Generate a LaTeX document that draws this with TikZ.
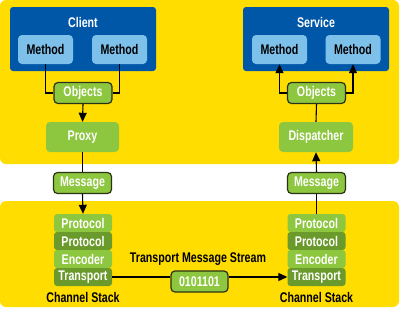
\documentclass[tikz,border=0pt]{standalone}
\usepackage{fontspec}
\setmainfont{Liberation Sans}[FakeStretch=0.76]
\usetikzlibrary{arrows.meta}
\definecolor{ylw}{HTML}{FFDD00}
\definecolor{dblue}{HTML}{0057A8}
\definecolor{lblue}{HTML}{7DC1EB}
\definecolor{lgreen}{HTML}{8DC63F}
\definecolor{dgreen}{HTML}{6B9A2C}
\definecolor{edge}{HTML}{2B3315}
\tikzset{
  x=1pt,y=-1pt,
  every node/.style={font=\fontsize{14}{15}\selectfont\bfseries, inner sep=0pt},
  panel/.style={fill=ylw, rounded corners=6pt},
  host/.style={fill=dblue, rounded corners=3pt, minimum width=146pt, minimum height=64pt},
  meth/.style={fill=lblue, rounded corners=4pt, minimum width=55pt, minimum height=29pt, text=black},
  pill/.style={fill=lgreen, draw=edge, line width=1.2pt, rounded corners=4pt, minimum width=58pt, minimum height=21pt, text=white},
  proc/.style={fill=lgreen, rounded corners=4pt, minimum height=30pt, text=white},
  lay/.style={rounded corners=3pt, minimum width=58pt, minimum height=18pt, text=white},
  layL/.style={lay, fill=lgreen},
  layD/.style={lay, fill=dgreen},
  wire/.style={draw=black, line width=1.1pt},
  arr/.style={wire, -{Triangle[length=9pt,width=8pt]}},
  lbl/.style={text=black}
}
\begin{document}
\begin{tikzpicture}
\useasboundingbox (0,0) rectangle (400,309);
\fill[panel] (0,0) rectangle (399,164);
\fill[panel] (0,201) rectangle (399,307);

% client side
\node[host] (client) at (83,39) {};
\node[text=white] (clientlbl) at (83,22) {Client};
\node[meth] (cm1) at (45.5,49.5) {Method};
\node[meth] (cm2) at (119.5,49.5) {Method};
\node[pill] (cobj) at (83,93) {Objects};
\node[proc, minimum width=73pt] (proxy) at (82.5,137) {Proxy};
\node[pill] (cmsg) at (82.5,183) {Message};
\node[layL] (cp1) at (83,223) {Protocol};
\node[layD] (cp2) at (83,241) {Protocol};
\node[layL] (cenc) at (83,259) {Encoder};
\node[layD] (ctr) at (83,277) {Transport};
\node[lbl] (cstack) at (83,297) {Channel Stack};

% service side
\node[host] (service) at (316,39) {};
\node[text=white] (servicelbl) at (316,22) {Service};
\node[meth] (sm1) at (279.5,49.5) {Method};
\node[meth] (sm2) at (353,49.5) {Method};
\node[pill] (sobj) at (316.5,93) {Objects};
\node[proc, minimum width=74pt] (disp) at (316,137) {Dispatcher};
\node[pill] (smsg) at (316.5,183) {Message};
\node[layL] (sp1) at (316.5,223) {Protocol};
\node[layD] (sp2) at (316.5,241) {Protocol};
\node[layL] (senc) at (316.5,259) {Encoder};
\node[layD] (str) at (316.5,277) {Transport};
\node[lbl] (sstack) at (316.5,297) {Channel Stack};

% stream
\node[lbl] (tms) at (198,259) {Transport Message Stream};
\node[pill, minimum width=57pt] (bits) at (199.5,281.5) {0101101};

% connectors client
\draw[wire] (cm1.south) |- (cobj.west);
\draw[wire] (cm2.south) |- (cobj.east);
\draw[arr] (cobj.south) -- (proxy.north);
\draw[wire] (proxy.south) -- (cmsg.north);
\draw[arr] (cmsg.south) -- (cp1.north);
\draw[wire] (ctr.east) -- (ctr.east -| bits.west);
\draw[arr] (bits.east |- str.west) -- (str.west);

% connectors service
\draw[arr] (sobj.west) -| (sm1.south);
\draw[arr] (sobj.east) -| (sm2.south);
\draw[wire] (disp.north) -- (sobj.south);
\draw[arr] (smsg.north) -- (disp.south);
\draw[wire] (sp1.north) -- (smsg.south);
\end{tikzpicture}
\end{document}
